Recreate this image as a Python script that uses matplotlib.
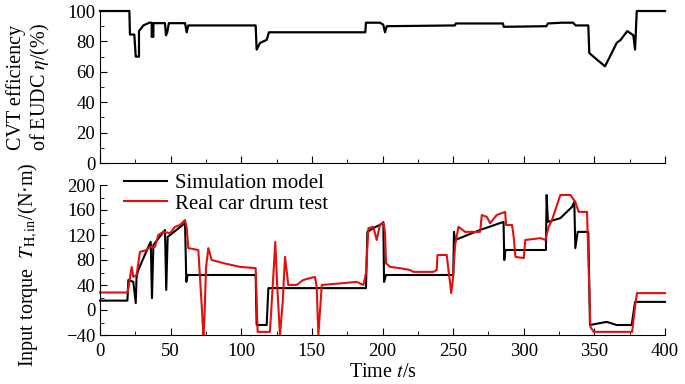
import matplotlib
matplotlib.use("Agg")
import matplotlib.pyplot as plt
from matplotlib.ticker import MultipleLocator

# CVT efficiency over the EUDC cycle (%)
eff_t = [0, 20.8, 21.2, 24.3, 25.3, 27.6, 27.6, 30.7, 34.9, 36.6, 36.6, 37.8, 37.8,
         46.0, 46.7, 47.6, 48.8, 60.2, 61.4, 62.5, 110.2, 110.9, 113.3, 118.0, 119.6,
         187.8, 188.3, 198.2, 200.5, 201.8, 203.0, 251.2, 251.9, 274.7, 285.3, 285.8,
         316.0, 317.1, 326.7, 335.0, 336.7, 345.7, 346.4, 349.3, 357.5, 361.0, 365.8,
         368.6, 373.3, 377.6, 378.8, 380.0, 400]
eff = [100, 100, 84.5, 84.5, 70, 70, 86.8, 90.5, 92.3, 92.3, 83, 83, 92,
       92, 84, 86, 92, 92, 86, 90.5, 90.5, 74.6, 79, 81, 86,
       86, 92.3, 92.3, 91, 86, 90, 90.5, 91.8, 91.8, 91.8, 89.6,
       90, 91.8, 92.3, 92.3, 90.5, 90.5, 72.4, 70, 63.6, 70, 79,
       81, 86.8, 84, 74.6, 100, 100]

# input torque, simulation model (N·m)
sim_t = [0, 19.4, 20.1, 23.6, 25.3, 25.9, 27.1, 34.2, 35.9, 36.8, 37.8, 46.0, 46.9,
         47.9, 60.2, 61.1, 62.0, 110.2, 110.9, 118.0, 119.2, 188.3, 189.3, 193.5,
         200.6, 201.1, 202.5, 250.1, 250.6, 251.4, 269.1, 285.7, 286.2, 287.1, 315.7,
         316.2, 317.1, 325.9, 334.2, 335.8, 336.5, 338.2, 345.7, 346.9, 358.7, 365.8,
         376.4, 378.8, 400]
sim = [15, 15, 48, 45, 11, 53, 64, 101, 109, 19, 104, 128, 32,
       117, 139, 45, 56, 56, -24, -24, 35, 35, 125, 131,
       139, 45, 56, 56, 125, 112, 128, 141, 80, 96, 96,
       184, 141, 147, 165, 173, 99, 125, 125, -24, -19, -24,
       -24, 13, 13]

# input torque, real car drum test (N·m)
real_t = [0, 19.4, 20.1, 22.4, 23.6, 25.9, 28.3, 33.0, 35.4, 38.9, 41.3, 44.8, 49.6,
          53.1, 56.6, 60.2, 61.4, 62.5, 69.6, 71.9, 73.2, 73.9, 75.1, 76.7, 79.1,
          87.3, 99.1, 110.2, 111.6, 120.3, 122.2, 124.1, 125.5, 127.4, 129.3, 131.0,
          133.3, 139.2, 143.9, 148.7, 152.2, 153.4, 154.6, 155.8, 157.0, 172.3, 181.7,
          186.5, 188.3, 190.0, 193.5, 195.9, 198.2, 200.6, 201.8, 202.5, 205.3, 212.4,
          219.5, 221.8, 236.0, 238.4, 238.9, 245.5, 246.7, 247.9, 248.6, 249.8, 251.4,
          253.8, 258.5, 269.1, 270.3, 273.8, 276.2, 280.9, 284.4, 286.8, 287.5, 291.7,
          292.9, 294.1, 300.0, 301.1, 311.8, 315.3, 317.6, 320.0, 325.9, 333.0, 336.5,
          338.9, 344.8, 346.0, 347.2, 349.5, 376.7, 379.1, 380.2, 400]
real = [28, 28, 35, 69, 53, 56, 93, 96, 101, 101, 120, 125, 123,
        133, 136, 144, 131, 99, 96, 11, -40, -16, 69, 99, 80,
        75, 69, 67, -35, -35, 35, 109, 37, -40, 11, 85,
        40, 40, 48, 51, 53, 37, -40, 0, 40, 43, 45,
        40, 59, 131, 133, 112, 136, 141, 123, 75, 69, 67,
        64, 61, 61, 64, 88, 88, 64, 43, 27, 48, 104,
        133, 125, 125, 152, 149, 139, 152, 155, 157, 136, 136,
        117, 85, 83, 112, 115, 112, 133, 144, 184, 184, 173,
        157, 157, 64, -27, -35, -35, 11, 27, 27]


def style(ax):
    ax.spines["top"].set_visible(False)
    ax.spines["right"].set_visible(False)
    ax.tick_params(direction="in", which="both", labelsize=13.5)
    ax.tick_params(which="major", length=5)
    ax.tick_params(which="minor", length=3)
    ax.tick_params(axis="x", pad=6)
    ax.set_xlim(0, 400)
    ax.xaxis.set_major_locator(MultipleLocator(50))
    ax.xaxis.set_minor_locator(MultipleLocator(25))


def main():
    plt.rcParams["font.family"] = ["Liberation Serif", "DejaVu Serif"]
    plt.rcParams["mathtext.fontset"] = "stix"

    fig = plt.figure(figsize=(6.85, 3.84), dpi=100)
    ax1 = fig.add_axes([100 / 685, 221 / 384, 565 / 685, 152 / 384])
    ax2 = fig.add_axes([100 / 685, 49 / 384, 565 / 685, 150 / 384])

    ax1.plot(eff_t, eff, color="black", lw=1.6, clip_on=False)
    style(ax1)
    ax1.set_ylim(0, 100)
    ax1.yaxis.set_major_locator(MultipleLocator(20))
    ax1.yaxis.set_minor_locator(MultipleLocator(10))
    ax1.tick_params(labelbottom=False)
    ax1.set_ylabel("CVT efficiency\nof EUDC $\\eta$/(%)", fontsize=14.5, linespacing=1.2)
    ax1.yaxis.set_label_coords(-0.085, 0.5)

    ax2.plot(sim_t, sim, color="black", lw=1.5, label="Simulation model", clip_on=False)
    ax2.plot(real_t, real, color="#e01010", lw=1.5, label="Real car drum test", clip_on=False)
    style(ax2)
    ax2.set_ylim(-40, 200)
    ax2.yaxis.set_major_locator(MultipleLocator(40))
    ax2.yaxis.set_minor_locator(MultipleLocator(20))
    ax2.set_xlabel("Time $t$/s", fontsize=14.5, labelpad=2)
    ax2.set_ylabel("Input torque  $T_{\\rm H,in}$/(N·m)", fontsize=14.5)
    ax2.yaxis.set_label_coords(-0.106, 0.467)
    ax2.legend(loc="upper left", bbox_to_anchor=(0.02, 1.16), frameon=False,
               fontsize=15, handlelength=2.05, borderaxespad=0.2,
               labelspacing=0.05, handletextpad=0.4)

    fig.savefig("out.png", dpi=100)


if __name__ == "__main__":
    main()
